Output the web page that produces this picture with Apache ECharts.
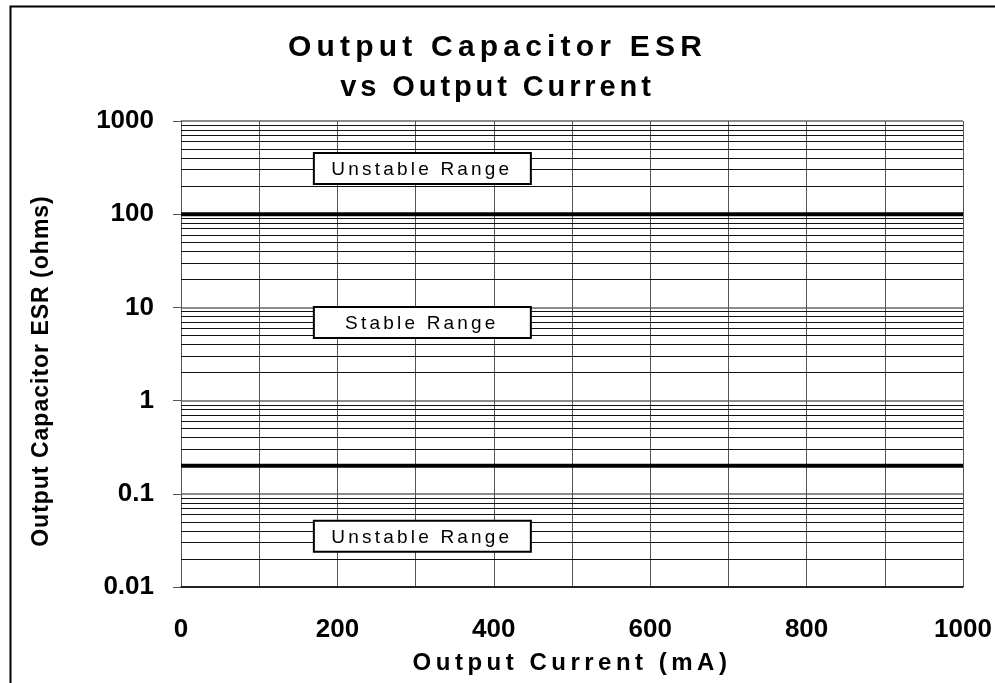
<!DOCTYPE html>
<html>
<head>
<meta charset="utf-8">
<script src="https://cdn.jsdelivr.net/npm/echarts@6/dist/echarts.min.js"></script>
<style>
  html, body { margin: 0; padding: 0; background: #fff; }
  #main { width: 995px; height: 683px; }
</style>
</head>
<body>
<div id="main"></div>
<script>
// data
const currentRange = [0, 1000];            // mA
const esrRange = [0.01, 1000];             // ohms
const upperLimit = [[0, 100], [1000, 100]];  // above this: unstable
const lowerLimit = [[0, 0.2], [1000, 0.2]];  // below this: unstable
const rangeNames = ['Unstable Range', 'Stable Range', 'Unstable Range'];
const rangeAt = [[308, 310], [308, 6.9], [308, 0.035]];

// log paper minor lines (2..9 in every decade)
const decades = [0.01, 0.1, 1, 10, 100];
const mantissas = [2, 3, 4, 5, 6, 7, 8, 9];

// the original text uses wide character spacing, echarts has no option for it
// (keyed by font size)
const spacing = { 30: '5.2px', 29: '3.9px', 24: '4.5px', 23: '1px', 19: '3.2px' };
const fillText = CanvasRenderingContext2D.prototype.fillText;
CanvasRenderingContext2D.prototype.fillText = function (t, x, y, w) {
  const m = /(\d+)px/.exec(this.font);
  this.letterSpacing = (m && spacing[m[1]]) || '0px';
  return w === undefined ? fillText.call(this, t, x, y) : fillText.call(this, t, x, y, w);
};

const font = "'Liberation Sans', Arial, sans-serif";
const minorLines = [];
decades.forEach(d => mantissas.forEach(k => minorLines.push({ yAxis: d * k })));

const frame = {
  type: 'rect',
  left: 8, top: 4,
  shape: { width: 1000, height: 700 },
  style: { fill: 'none', stroke: '#000', lineWidth: 2 },
  silent: true
};

const chart = echarts.init(document.getElementById('main'));
chart.setOption({
  animation: false,
  backgroundColor: '#fff',
  title: [
    {
      text: 'Output Capacitor ESR',
      left: 'center',
      top: 28,
      textStyle: { fontFamily: font, fontSize: 30, fontWeight: 'bold', color: '#000' }
    },
    {
      text: 'vs Output Current',
      left: 'center',
      top: 68,
      textStyle: { fontFamily: font, fontSize: 29, fontWeight: 'bold', color: '#000' }
    }
  ],
  graphic: [frame],
  grid: { left: 181, right: 32, top: 121, bottom: 96 },
  xAxis: {
    type: 'value',
    min: currentRange[0], max: currentRange[1], interval: 200,
    name: 'Output Current (mA)',
    nameLocation: 'middle',
    nameGap: 64,
    nameTextStyle: { fontFamily: font, fontSize: 24, fontWeight: 'bold', color: '#000' },
    axisLine: { show: true, lineStyle: { color: '#000', width: 1.5 } },
    axisTick: { show: false },
    axisLabel: {
      fontFamily: font, fontSize: 26, fontWeight: 'bold', color: '#000', margin: 30,
      formatter: v => String(v)
    },
    splitLine: { show: true, lineStyle: { color: '#555', width: 1 } },
    minorTick: { show: false, splitNumber: 2 },
    minorSplitLine: { show: true, lineStyle: { color: '#555', width: 1 } }
  },
  yAxis: {
    type: 'log',
    logBase: 10,
    min: esrRange[0], max: esrRange[1],
    name: 'Output Capacitor ESR (ohms)',
    nameLocation: 'middle',
    nameGap: 128,
    nameTextStyle: { fontFamily: font, fontSize: 23, fontWeight: 'bold', color: '#000', padding: [0, 34, 0, 0] },
    axisLine: { show: true, lineStyle: { color: '#555', width: 1 } },
    axisTick: { show: true, inside: false, length: 8, lineStyle: { color: '#555' } },
    axisLabel: {
      fontFamily: font, fontSize: 26, fontWeight: 'bold', color: '#000', margin: 27,
      formatter: v => String(v)
    },
    splitLine: { show: true, lineStyle: { color: '#666', width: 1.5 } }
  },
  series: [
    {
      name: 'grid',
      type: 'line',
      data: [],
      silent: true,
      markLine: {
        silent: true,
        symbol: 'none',
        label: { show: false },
        lineStyle: { type: 'solid', color: '#111', width: 1 },
        data: minorLines
      }
    },
    {
      name: 'upper',
      type: 'line',
      data: upperLimit,
      showSymbol: false,
      lineStyle: { color: '#000', width: 4 },
      z: 5
    },
    {
      name: 'lower',
      type: 'line',
      data: lowerLimit,
      showSymbol: false,
      lineStyle: { color: '#000', width: 4 },
      z: 5
    }
  ]
});

// range captions: white boxes placed with the axes' own scales
const boxes = [];
rangeAt.forEach((p, i) => {
  const pt = chart.convertToPixel({ gridIndex: 0 }, p);
  boxes.push({
    type: 'rect',
    x: pt[0], y: pt[1],
    z: 100,
    silent: true,
    shape: { x: -108, y: -15.5, width: 217, height: 31 },
    style: { fill: '#fff', stroke: '#000', lineWidth: 2 }
  });
  boxes.push({
    type: 'text',
    x: pt[0], y: pt[1] + 1,
    z: 101,
    silent: true,
    style: {
      text: rangeNames[i],
      align: 'center', verticalAlign: 'middle',
      fontFamily: font, fontSize: 19, fill: '#000'
    }
  });
});
chart.setOption({ graphic: [frame].concat(boxes) });
</script>
</body>
</html>
